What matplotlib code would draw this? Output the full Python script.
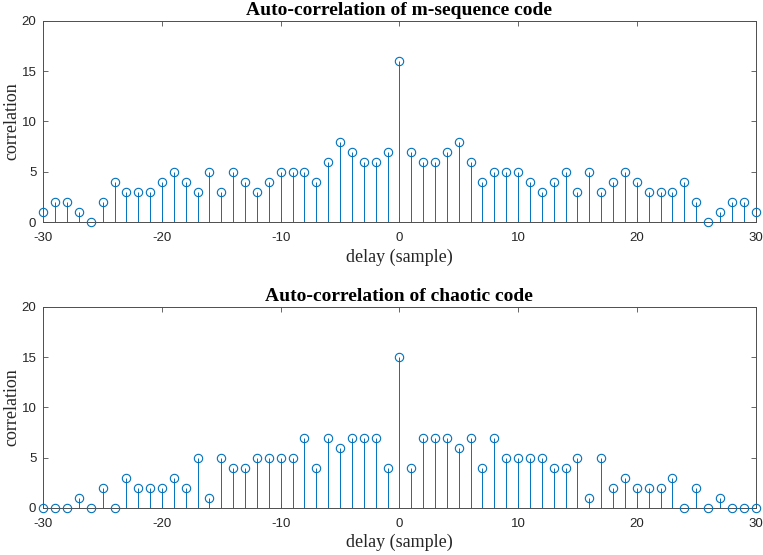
import numpy as np
import matplotlib
matplotlib.use("Agg")
import matplotlib.pyplot as plt

# delay axis and correlation values
delays = list(range(-30, 31))
mseq_corr = [1, 2, 2, 1, 0, 2, 4, 3, 3, 3, 4, 5, 4, 3, 5, 3, 5, 4, 3, 4,
             5, 5, 5, 4, 6, 8, 7, 6, 6, 7, 16, 7, 6, 6, 7, 8, 6, 4, 5, 5,
             5, 4, 3, 4, 5, 3, 5, 3, 4, 5, 4, 3, 3, 3, 4, 2, 0, 1, 2, 2, 1]
chaos_corr = [0, 0, 0, 1, 0, 2, 0, 3, 2, 2, 2, 3, 2, 5, 1, 5, 4, 4, 5, 5,
              5, 5, 7, 4, 7, 6, 7, 7, 7, 4, 15, 4, 7, 7, 7, 6, 7, 4, 7, 5,
              5, 5, 5, 4, 4, 5, 1, 5, 2, 3, 2, 2, 2, 3, 0, 2, 0, 1, 0, 0, 0]
titles = ["Auto-correlation of m-sequence code", "Auto-correlation of chaotic code"]

STEM_C = "#0072BD"
AX_C = "#4d4d4d"
W, H = 763, 555

plt.rcParams["axes.unicode_minus"] = False
fig = plt.figure(figsize=(W / 100, H / 100), dpi=100)
boxes = [(43.3, 20.7, 755.5, 222.3), (43.3, 306.7, 755.5, 508.0)]

for (x0, y0, x1, y1), vals, ttl in zip(boxes, [mseq_corr, chaos_corr], titles):
    ax = fig.add_axes([x0 / W, 1 - y1 / H, (x1 - x0) / W, (y1 - y0) / H])
    ml, sl, bl = ax.stem(delays, vals, basefmt=" ")
    plt.setp(sl, color=STEM_C, linewidth=0.7, zorder=3, snap=True)
    plt.setp(ml, color=STEM_C, markerfacecolor="none", markersize=6,
             markeredgewidth=0.8, clip_on=False, zorder=4)
    ax.set_xlim(-30, 30)
    ax.set_ylim(0, 20)
    ax.set_xticks(np.arange(-30, 31, 10))
    ax.set_yticks(np.arange(0, 21, 5))
    ax.tick_params(direction="in", top=True, right=True, length=3.5, width=0.6,
                   color=AX_C, labelsize=9.5, labelcolor="#262626")
    ax.tick_params(axis="x", pad=7)
    ax.tick_params(axis="y", pad=5)
    for lab in ax.get_xticklabels() + ax.get_yticklabels():
        lab.set_family("Liberation Sans")
    for sp in ax.spines.values():
        sp.set_color(AX_C)
        sp.set_linewidth(0.7)
    ax.set_title(ttl, family="Liberation Serif", fontweight="bold", fontsize=14, pad=4)
    ax.set_xlabel("delay (sample)", family="Liberation Serif", fontsize=13,
                  color="#262626", labelpad=3)
    ax.set_ylabel("correlation", family="Liberation Serif", fontsize=13,
                  color="#262626", labelpad=1)

fig.savefig("out.png", dpi=100)
